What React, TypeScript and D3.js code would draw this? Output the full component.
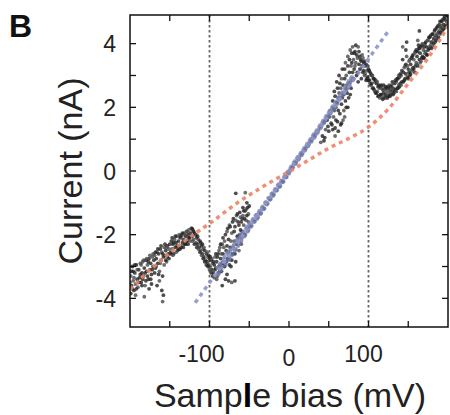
import React from "react";
import * as d3 from "d3";

// axis ticks
const xTicks = [-150, -100, -50, 0, 50, 100, 150];
const xTickLabels = [-100, 0, 100];
const yTicks = [-4, -3, -2, -1, 0, 1, 2, 3, 4];
const yTickLabels = [-4, -2, 0, 2, 4];
const markerBias = [-100, 100];

// measured I-V points, bias (mV) / current (nA)
const darkPoints: [number, number][] = [
  [-199, -3.3], [-198, -3.6], [-197, -3.0], [-196, -3.45], [-195, -3.75], [-194, -3.2], [-193, -3.55], [-192, -2.95],
  [-191, -3.4], [-190, -3.65], [-199, -3.85], [-196, -3.15], [-193, -3.9], [-189, -3.1], [-188, -3.35],
  [-187, -2.9], [-186, -3.5], [-185, -3.2], [-184, -2.85], [-183, -3.3], [-182, -3.05], [-181, -3.6], [-180, -2.8],
  [-179, -3.15], [-178, -2.95], [-177, -3.4], [-176, -2.75], [-175, -3.1], [-174, -2.9], [-173, -3.25], [-172, -2.7],
  [-171, -3.0], [-170, -2.8], [-182, -3.95], [-176, -3.7], [-173, -3.55],
  [-169, -2.65], [-168, -3.05], [-167, -2.75], [-166, -2.55], [-165, -2.9], [-164, -2.6], [-163, -3.15], [-162, -2.45],
  [-161, -2.8], [-160, -2.55], [-159, -3.3], [-158, -2.7], [-157, -2.4], [-156, -2.65], [-155, -2.5], [-154, -2.85],
  [-153, -2.35], [-152, -2.6], [-151, -2.45], [-150, -2.3], [-160, -3.75], [-159, -4.1], [-158, -3.9], [-166, -3.6],
  [-163, -3.45],
  [-149, -2.55], [-148, -2.2], [-147, -2.45], [-146, -2.3], [-145, -2.6], [-144, -2.15], [-143, -2.4], [-142, -2.25],
  [-141, -2.05], [-140, -2.5], [-139, -2.2], [-138, -2.35], [-137, -2.1], [-136, -2.4], [-135, -2.0], [-134, -2.25],
  [-133, -2.15], [-132, -1.95], [-131, -2.3], [-130, -2.05], [-129, -1.9], [-128, -2.2], [-127, -2.0], [-126, -1.85],
  [-125, -2.1],
  [-124, -1.95], [-123, -1.8], [-122, -2.05], [-121, -1.85], [-120, -2.15], [-119, -1.95], [-118, -2.0], [-117, -2.25],
  [-116, -2.1], [-115, -2.3], [-114, -2.15], [-113, -2.4], [-112, -2.2], [-111, -2.5], [-110, -2.35], [-109, -2.6],
  [-108, -2.45], [-107, -2.7], [-106, -2.5], [-105, -2.8], [-104, -2.6], [-103, -2.85], [-102, -2.7], [-101, -2.95],
  [-100, -2.75],
  [-99, -3.0], [-98, -2.8], [-97, -3.1], [-96, -2.9], [-95, -3.2], [-94, -2.95], [-93, -2.7], [-92, -3.05],
  [-91, -2.85], [-90, -3.3], [-89, -2.6], [-88, -3.0], [-87, -2.4], [-86, -2.75], [-85, -3.15], [-84, -2.3],
  [-83, -2.6], [-82, -2.9], [-81, -2.2], [-80, -3.4],
  [-79, -2.5], [-78, -1.9], [-77, -2.75], [-76, -2.15], [-75, -1.7], [-74, -2.4], [-73, -3.0], [-72, -1.95],
  [-71, -2.6], [-70, -1.5], [-69, -2.2], [-68, -1.75], [-67, -2.85], [-66, -1.4], [-65, -2.05], [-64, -1.6],
  [-63, -2.5], [-62, -1.3], [-61, -1.85], [-60, -2.3], [-59, -1.5], [-58, -1.15], [-57, -1.7], [-56, -2.0],
  [-55, -1.25], [-54, -1.55], [-53, -1.0], [-52, -1.8], [-51, -1.35], [-50, -1.1],
  [-76, -3.45], [-72, -3.5], [-68, -3.45], [-67, -0.7], [-55, -0.68], [-78, -3.25], [-84, -3.6],
  [40, 0.9], [42, 1.1], [44, 0.95], [46, 1.3], [48, 1.6], [50, 1.25], [52, 1.9], [53, 1.5],
  [55, 2.2], [56, 1.7], [57, 2.5], [58, 1.35], [59, 2.0], [60, 2.8], [61, 1.55], [62, 2.3],
  [63, 3.0], [64, 1.8], [65, 2.6], [66, 2.1], [67, 3.2], [68, 1.6], [69, 2.4], [70, 2.9],
  [71, 3.4], [72, 2.0], [73, 2.7], [74, 3.6], [75, 2.3], [76, 3.1], [77, 3.8], [78, 2.6],
  [79, 3.4], [80, 3.9], [81, 2.9], [82, 3.7], [83, 3.3], [84, 3.95], [85, 3.0], [86, 3.55],
  [87, 2.8], [88, 3.75], [89, 3.2], [90, 3.5], [91, 2.9], [92, 3.65], [93, 3.1], [94, 3.4],
  [95, 3.0], [96, 3.3], [97, 2.85], [98, 3.15], [99, 2.95], [100, 3.2],
  [58, 1.1], [62, 1.25], [66, 1.5], [70, 1.7], [74, 2.0],
  [101, 2.85], [102, 3.1], [103, 2.7], [104, 3.0], [105, 2.6], [106, 2.9], [107, 2.55], [108, 2.8],
  [109, 2.45], [110, 2.75], [111, 2.5], [112, 2.65], [113, 2.35], [114, 2.6], [115, 2.4], [116, 2.7],
  [117, 2.3], [118, 2.55], [119, 2.45], [120, 2.35], [121, 2.6], [122, 2.4], [123, 2.5], [124, 2.3],
  [125, 2.65], [126, 2.45], [127, 2.55], [128, 2.4], [129, 2.7], [130, 2.5], [131, 2.6], [132, 2.45],
  [133, 2.75], [134, 2.55], [135, 2.8], [136, 2.6], [137, 2.9], [138, 2.7], [139, 2.95], [140, 2.75],
  [141, 3.0], [142, 2.8], [143, 3.5], [143, 3.9], [144, 3.1], [145, 2.85], [146, 3.3], [147, 3.05],
  [148, 4.05], [148, 3.6], [149, 2.95], [150, 3.2], [151, 3.45], [152, 3.0], [153, 3.35], [154, 3.15],
  [155, 3.6], [156, 3.25], [157, 3.5], [158, 3.1], [159, 3.75], [160, 3.4], [161, 3.6], [162, 3.3],
  [163, 3.85], [164, 3.5], [165, 3.7], [166, 3.45], [167, 3.95], [168, 3.6], [169, 3.8], [170, 3.55],
  [171, 4.0], [172, 3.75], [173, 3.9], [174, 3.65], [175, 4.1], [176, 3.85], [177, 4.2], [178, 3.95],
  [179, 4.05], [180, 4.3], [181, 3.9], [182, 4.15], [183, 4.4], [184, 4.05], [185, 4.25], [186, 4.5],
  [187, 4.15], [188, 4.35], [189, 4.6], [190, 4.3], [191, 4.5], [192, 4.7], [193, 4.4], [194, 4.6],
  [195, 4.8], [196, 4.5], [197, 4.75], [198, 4.9], [199, 4.6], [200, 4.85],
  [147, 3.8], [162, 4.1], [164, 4.4], [163, 3.95],
];

// second pass over the same traces, filling out the cloud width
const darkPointsExtra: [number, number][] = [
  [-200, -3.5], [-198, -3.15], [-197, -3.7], [-195, -3.35], [-194, -2.95], [-192, -3.7], [-191, -3.1], [-189, -3.5],
  [-187, -3.25], [-186, -2.95], [-185, -3.6], [-184, -3.4], [-183, -2.8], [-181, -3.2], [-180, -3.45], [-179, -2.75],
  [-178, -3.3], [-177, -2.85], [-175, -2.65], [-174, -3.4], [-172, -3.1], [-171, -2.6], [-169, -3.2], [-168, -2.55],
  [-167, -3.0], [-165, -2.45], [-164, -3.25], [-162, -2.9], [-161, -2.35], [-159, -2.6], [-157, -2.95], [-156, -2.3],
  [-155, -2.8], [-154, -2.4], [-153, -2.7], [-151, -2.75], [-150, -2.6], [-148, -2.6], [-147, -2.1], [-146, -2.65],
  [-145, -2.25], [-143, -2.05], [-142, -2.55], [-141, -2.35], [-139, -2.45], [-138, -2.0], [-137, -2.45], [-136, -2.05],
  [-135, -2.35], [-134, -1.95], [-133, -2.4], [-131, -2.0], [-130, -2.3], [-129, -2.2], [-128, -1.9], [-127, -2.3],
  [-126, -2.1], [-124, -2.2], [-123, -2.05], [-122, -1.8], [-121, -2.2], [-120, -1.9], [-119, -2.3], [-117, -2.0],
  [-116, -2.4], [-115, -2.05], [-114, -2.45], [-112, -2.55], [-111, -2.25], [-110, -2.65], [-109, -2.3], [-108, -2.75],
  [-107, -2.4], [-106, -2.85], [-104, -2.95], [-103, -2.55], [-102, -3.0], [-101, -2.65], [-100, -3.1],
  [-99, -2.7], [-98, -3.2], [-97, -2.75], [-96, -3.3], [-95, -2.85], [-94, -3.35], [-93, -3.1], [-92, -2.6],
  [-91, -3.4], [-90, -2.7], [-89, -3.2], [-88, -2.5], [-87, -3.1], [-86, -2.3], [-85, -2.6], [-84, -2.9],
  [-83, -2.1], [-82, -2.4], [-81, -3.0], [-80, -2.0], [-79, -2.85], [-78, -2.35], [-77, -1.8], [-76, -2.55],
  [-75, -2.95], [-74, -1.75], [-73, -2.2], [-72, -2.8], [-71, -1.6], [-70, -2.4], [-69, -1.9], [-68, -2.6],
  [-67, -1.55], [-66, -2.3], [-65, -1.35], [-64, -2.1], [-63, -1.7], [-62, -2.0], [-61, -1.45], [-60, -1.6],
  [-59, -1.9], [-58, -1.4], [-57, -1.25], [-56, -1.5], [-54, -1.2], [-53, -1.4], [-52, -1.15], [-51, -1.6],
  [45, 1.05], [49, 1.4], [51, 1.7], [54, 1.45], [55, 1.3], [57, 1.9], [58, 2.35], [59, 1.6],
  [60, 2.15], [61, 2.6], [62, 1.9], [63, 2.45], [64, 2.75], [65, 1.45], [66, 2.9], [67, 2.3],
  [68, 2.7], [69, 1.9], [70, 3.2], [71, 2.2], [72, 3.0], [73, 2.45], [74, 3.3], [75, 2.7],
  [76, 3.5], [77, 2.4], [78, 3.3], [79, 3.7], [80, 3.1], [81, 3.5], [82, 3.2], [83, 3.75],
  [84, 3.4], [85, 3.65], [86, 3.1], [87, 3.9], [88, 3.35], [89, 3.6], [90, 3.2], [91, 3.45],
  [92, 3.3], [93, 3.55], [94, 3.15], [95, 3.45], [96, 3.05], [97, 3.35], [98, 2.9], [99, 3.3], [100, 2.85],
  [101, 3.15], [102, 2.75], [103, 3.05], [104, 2.75], [105, 3.0], [106, 2.6], [107, 2.9], [108, 2.5],
  [109, 2.85], [110, 2.45], [111, 2.8], [112, 2.35], [113, 2.7], [114, 2.3], [115, 2.65], [116, 2.4],
  [117, 2.6], [118, 2.25], [119, 2.7], [120, 2.55], [121, 2.3], [122, 2.65], [123, 2.3], [124, 2.6],
  [125, 2.35], [126, 2.7], [127, 2.35], [128, 2.65], [129, 2.45], [130, 2.8], [131, 2.4], [132, 2.75],
  [133, 2.5], [134, 2.85], [135, 2.5], [136, 2.9], [137, 2.6], [138, 3.0], [139, 2.65], [140, 3.05],
  [141, 2.7], [142, 3.15], [144, 2.8], [145, 3.25], [146, 2.9], [147, 3.35], [149, 3.3], [150, 2.9],
  [151, 3.1], [152, 3.5], [153, 3.05], [154, 3.55], [155, 3.2], [156, 3.65], [157, 3.2], [158, 3.7],
  [159, 3.3], [160, 3.8], [161, 3.35], [162, 3.75], [164, 3.85], [165, 3.4], [166, 3.9], [167, 3.55],
  [168, 4.0], [169, 3.55], [170, 3.9], [171, 3.7], [172, 4.05], [173, 3.65], [174, 4.1], [175, 3.8],
  [176, 4.2], [177, 3.9], [178, 4.25], [179, 3.85], [180, 4.05], [181, 4.3], [182, 4.0], [183, 4.2],
  [184, 4.45], [185, 4.1], [186, 4.3], [187, 4.55], [188, 4.2], [189, 4.4], [190, 4.7], [191, 4.35],
  [192, 4.55], [193, 4.75], [194, 4.45], [195, 4.6], [196, 4.85], [197, 4.55], [198, 4.7], [199, 4.9],
];

const bluePoints: [number, number][] = [
  [-90, -3.05], [-88, -3.2], [-86, -2.9], [-84, -3.0], [-82, -2.75], [-80, -2.95], [-78, -2.6], [-76, -2.8],
  [-74, -2.5], [-72, -2.65], [-70, -2.35], [-68, -2.5], [-66, -2.2], [-64, -2.35], [-62, -2.1], [-60, -2.2],
  [-58, -1.95], [-56, -2.05], [-54, -1.8], [-52, -1.9], [-50, -1.7], [-48, -1.75], [-46, -1.55], [-44, -1.6],
  [-42, -1.4], [-40, -1.5], [-38, -1.3], [-36, -1.35], [-34, -1.15], [-32, -1.2], [-30, -1.0], [-28, -1.05],
  [-26, -0.85], [-24, -0.9], [-22, -0.72], [-20, -0.78], [-18, -0.6], [-16, -0.62], [-14, -0.45], [-12, -0.5],
  [-10, -0.32], [-8, -0.35], [-6, -0.18], [-4, -0.2], [-2, -0.05], [0, -0.08], [2, 0.1], [4, 0.08],
  [6, 0.25], [8, 0.22], [10, 0.4], [12, 0.36], [14, 0.52], [16, 0.5], [18, 0.66], [20, 0.64],
  [22, 0.8], [24, 0.78], [26, 0.95], [28, 0.92], [30, 1.1], [32, 1.05], [34, 1.22], [36, 1.2],
  [38, 1.38], [40, 1.35], [42, 1.52], [44, 1.5], [46, 1.68], [48, 1.65], [50, 1.82], [52, 1.8],
  [54, 1.98], [56, 1.95], [58, 2.12], [60, 2.1], [62, 2.28], [64, 2.25], [66, 2.42], [68, 2.4],
  [70, 2.58], [72, 2.55], [74, 2.75], [76, 2.7], [78, 2.9], [80, 2.85],
  [-89, -3.25], [-87, -2.95], [-85, -3.1], [-83, -2.85], [-81, -2.7], [-79, -2.85], [-77, -2.55], [-75, -2.75],
  [-73, -2.45], [-71, -2.6], [-69, -2.3], [-67, -2.45], [-65, -2.15], [-63, -2.25], [-61, -2.0], [-59, -2.1],
  [-57, -1.9], [-55, -2.0], [-53, -1.75], [-51, -1.85], [-49, -1.65], [-47, -1.72], [-45, -1.5], [-43, -1.58],
  [-41, -1.38], [-39, -1.45], [-37, -1.25], [-35, -1.32], [-33, -1.12], [-31, -1.18], [-29, -0.98], [-27, -1.02],
  [-25, -0.85], [-23, -0.88], [-21, -0.7], [-19, -0.74], [-17, -0.56], [-15, -0.6], [-13, -0.42], [-11, -0.47],
  [-9, -0.3], [-7, -0.33], [-5, -0.15], [-3, -0.19], [-1, -0.02], [1, 0.0], [3, 0.14], [5, 0.12],
  [7, 0.3], [9, 0.27], [11, 0.44], [13, 0.42], [15, 0.57], [17, 0.55], [19, 0.72], [21, 0.7],
  [23, 0.86], [25, 0.84], [27, 1.0], [29, 0.98], [31, 1.15], [33, 1.12], [35, 1.28], [37, 1.27],
  [39, 1.43], [41, 1.42], [43, 1.58], [45, 1.56], [47, 1.73], [49, 1.7], [51, 1.88], [53, 1.85],
  [55, 2.03], [57, 2.0], [59, 2.18], [61, 2.15], [63, 2.33], [65, 2.3], [67, 2.48], [69, 2.45],
  [71, 2.65], [73, 2.6], [75, 2.82], [77, 2.78], [79, 2.95],
];

// fitted curves
const blueFit: [number, number][] = [[-118, -4.14], [125, 4.4]];
const redFit: [number, number][] = [
  [-200, -3.72], [-170, -3.0], [-140, -2.37], [-110, -1.82], [-100, -1.65], [-65, -1.0], [-30, -0.45],
  [0, -0.02], [30, 0.42], [50, 0.72], [75, 1.02], [100, 1.38], [125, 1.95], [150, 2.75], [175, 3.55], [200, 4.55],
];

const W = 450;
const H = 415;
const left = 130, right = 448, top = 15, bottom = 327;
const font = "'Liberation Sans', Arial, Helvetica, sans-serif";

const App = () => {
  const x = d3.scaleLinear().domain([-200, 200]).range([left, right]);
  const y = d3.scaleLinear().domain([-4.9, 4.9]).range([bottom, top]);
  const line = d3.line<[number, number]>().x((d) => x(d[0])).y((d) => y(d[1]));
  const curve = d3
    .line<[number, number]>()
    .x((d) => x(d[0]))
    .y((d) => y(d[1]))
    .curve(d3.curveMonotoneX);
  const tl = 6;
  const allDark = darkPoints.concat(darkPointsExtra);

  return (
    <svg width={W} height={H} style={{ position: "absolute", left: 0, top: 0, background: "#fff" }}>
      <defs>
        <clipPath id="plot">
          <rect x={left} y={top} width={right - left} height={bottom - top} />
        </clipPath>
      </defs>

      <g clipPath="url(#plot)">
        {markerBias.map((v) => (
          <line key={v} x1={x(v)} x2={x(v)} y1={top} y2={bottom} stroke="#666" strokeWidth={1.8} strokeDasharray="2.5,2.5" />
        ))}
        {allDark.map((d, i) => (
          <circle key={"d" + i} cx={x(d[0])} cy={y(d[1])} r={1.9} fill={i % 3 === 0 ? "#4a4a4a" : "#222"} opacity={0.8} />
        ))}
        {bluePoints.map((d, i) => (
          <circle key={"b" + i} cx={x(d[0])} cy={y(d[1])} r={2.1} fill={i % 2 === 0 ? "#7b84b2" : "#646d98"} opacity={0.75} />
        ))}
        <path d={curve(redFit) ?? ""} fill="none" stroke="#ea8468" strokeWidth={3.5} strokeDasharray="4,4" opacity={0.9} />
        <path d={line(blueFit) ?? ""} fill="none" stroke="#8c94cc" strokeWidth={3.5} strokeDasharray="4,4" opacity={0.9} />
      </g>

      <rect x={left} y={top} width={right - left} height={bottom - top} fill="none" stroke="#111" strokeWidth={1.5} />
      {xTicks.map((t) => (
        <g key={"xt" + t} stroke="#111" strokeWidth={1.3}>
          <line x1={x(t)} x2={x(t)} y1={bottom} y2={bottom - tl} />
          <line x1={x(t)} x2={x(t)} y1={top} y2={top + tl} />
        </g>
      ))}
      {yTicks.map((t) => (
        <g key={"yt" + t} stroke="#111" strokeWidth={1.3}>
          <line x1={left} x2={left + tl} y1={y(t)} y2={y(t)} />
          <line x1={right} x2={right - tl} y1={y(t)} y2={y(t)} />
        </g>
      ))}

      <g fontFamily={font} fontSize={23} fill="#222">
        {xTickLabels.map((t) => (
          <text
            key={"xl" + t}
            x={t < 0 ? x(t) + 15 : x(t) + (t > 0 ? -5 : 0)}
            y={t === 0 ? 366 : 362}
            textAnchor={t < 0 ? "end" : "middle"}
          >
            {t}
          </text>
        ))}
        {yTickLabels.map((t) => (
          <text key={"yl" + t} x={116} y={y(t) + 8.5} textAnchor="end">
            {t}
          </text>
        ))}
      </g>

      <text x={290} y={407} fontFamily={font} fontSize={34} fill="#222" textAnchor="middle">
        Samp<tspan fontWeight="bold" fill="#000">l</tspan>e bias (mV)
      </text>
      <text
        transform={`translate(82,${171}) rotate(-90)`}
        fontFamily={font}
        fontSize={34}
        fill="#222"
        textAnchor="middle"
      >
        Current (nA)
      </text>
      <text x={9} y={37} fontFamily={font} fontSize={32} fontWeight="bold" fill="#111">
        B
      </text>
    </svg>
  );
};

export default App;
